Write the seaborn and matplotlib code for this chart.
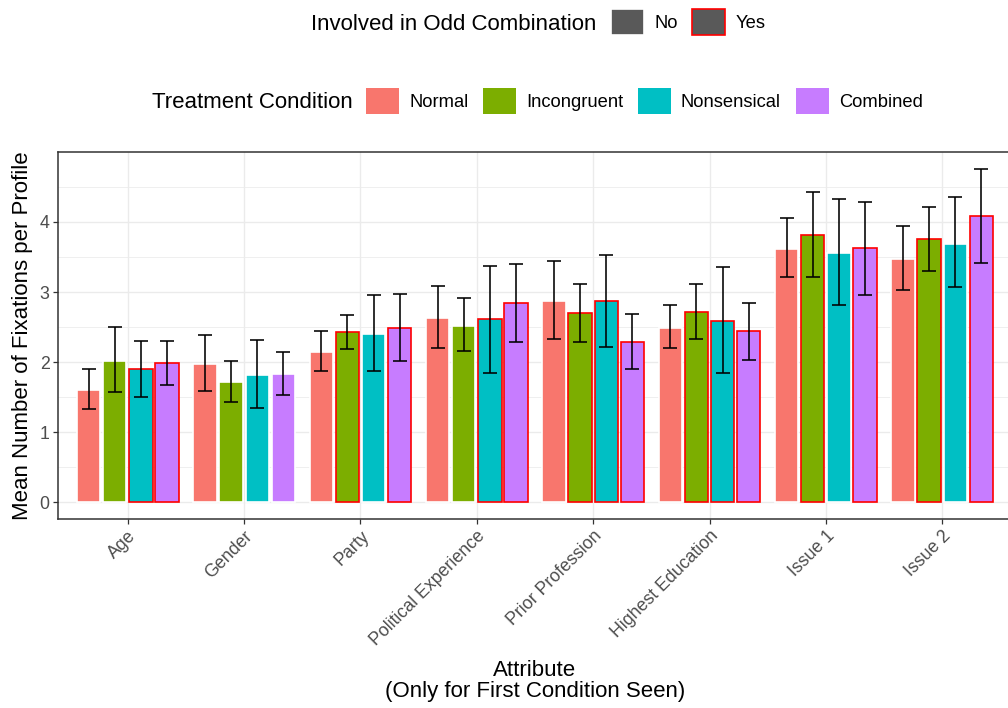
import numpy as np
import pandas as pd
import matplotlib
matplotlib.use("Agg")
import matplotlib.pyplot as plt
from matplotlib.patches import Patch
import seaborn as sns

# ---- data -------------------------------------------------------------
attributes = ["Age", "Gender", "Party", "Political Experience", "Prior Profession",
              "Highest Education", "Issue 1", "Issue 2"]
conditions = ["Normal", "Incongruent", "Nonsensical", "Combined"]

normal_mean = [1.60, 1.97, 2.15, 2.63, 2.87, 2.49, 3.61, 3.47]
normal_lo = [1.33, 1.59, 1.87, 2.20, 2.33, 2.20, 3.21, 3.03]
normal_hi = [1.90, 2.39, 2.45, 3.09, 3.45, 2.82, 4.06, 3.94]
normal_odd = [0, 0, 0, 0, 0, 0, 0, 0]

incong_mean = [2.01, 1.71, 2.43, 2.52, 2.70, 2.72, 3.82, 3.76]
incong_lo = [1.58, 1.43, 2.19, 2.16, 2.29, 2.33, 3.22, 3.30]
incong_hi = [2.50, 2.01, 2.67, 2.92, 3.11, 3.12, 4.43, 4.22]
incong_odd = [0, 0, 1, 0, 1, 1, 1, 1]

nonsens_mean = [1.90, 1.81, 2.40, 2.61, 2.87, 2.59, 3.55, 3.69]
nonsens_lo = [1.50, 1.34, 1.88, 1.85, 2.22, 1.84, 2.81, 3.07]
nonsens_hi = [2.30, 2.32, 2.96, 3.37, 3.53, 3.36, 4.33, 4.36]
nonsens_odd = [1, 0, 0, 1, 1, 1, 0, 0]

comb_mean = [1.99, 1.83, 2.49, 2.84, 2.29, 2.44, 3.63, 4.09]
comb_lo = [1.68, 1.53, 2.01, 2.29, 1.90, 2.03, 2.96, 3.42]
comb_hi = [2.30, 2.15, 2.97, 3.40, 2.69, 2.84, 4.28, 4.76]
comb_odd = [1, 0, 1, 1, 1, 1, 1, 1]

odd_levels = ["No", "Yes"]

means = [normal_mean, incong_mean, nonsens_mean, comb_mean]
lows = [normal_lo, incong_lo, nonsens_lo, comb_lo]
highs = [normal_hi, incong_hi, nonsens_hi, comb_hi]
odds = [normal_odd, incong_odd, nonsens_odd, comb_odd]

rows = []
for cond, m, lo, hi, od in zip(conditions, means, lows, highs, odds):
    for a, mv, lv, hv, ov in zip(attributes, m, lo, hi, od):
        rows.append({"Attribute": a, "Condition": cond, "mean": mv,
                     "lo": lv, "hi": hv, "odd": odd_levels[ov]})
df = pd.DataFrame(rows)

# ---- style ------------------------------------------------------------
palette = {"Normal": "#F8766D", "Incongruent": "#7CAE00",
           "Nonsensical": "#00BFC4", "Combined": "#C77CFF"}
edge_for = {"No": "white", "Yes": "#FF0000"}
plt.rcParams["font.family"] = ["Liberation Sans", "DejaVu Sans"]
TITLE_FS = 16
TEXT_FS = 12.8
LEGEND_FS = 13.2
GRID = "#EBEBEB"
DARK = "#333333"

fig = plt.figure(figsize=(10.08, 7.08), dpi=100)
W, H = 1008, 708
ax = fig.add_axes([58 / W, (H - 519) / H, (1012 - 58) / W, (519 - 152) / H])

sns.barplot(data=df, x="Attribute", y="mean", hue="Condition",
            order=attributes, hue_order=conditions, palette=palette,
            width=0.9, gap=0.11, errorbar=None, legend=False, saturation=1,
            linewidth=1.2, edgecolor="white", ax=ax, zorder=2)

# outline the bars involved in an odd combination, then add the intervals
bar_groups = list(ax.containers)
for cond, cont in zip(conditions, bar_groups):
    sub = df[df["Condition"] == cond].set_index("Attribute").loc[attributes]
    xs = []
    for bar, flag in zip(cont.patches, sub["odd"]):
        bar.set_edgecolor(edge_for[flag])
        bar.set_linewidth(1.2)
        bar.set_zorder(3 if flag == "Yes" else 2)
        xs.append(bar.get_x() + bar.get_width() / 2)
    xs = np.array(xs)
    yerr = np.vstack([sub["mean"] - sub["lo"], sub["hi"] - sub["mean"]])
    ax.errorbar(xs, sub["mean"], yerr=yerr, fmt="none", ecolor="black",
                elinewidth=1.15, capsize=4.8, capthick=1.15, zorder=4)

# ---- axes -------------------------------------------------------------
ymax = max(max(h) for h in highs)
pad = 0.05 * ymax
ax.set_ylim(-pad, ymax + pad)
ax.set_xlim(-0.6, len(attributes) - 1 + 0.6)
ax.set_yticks([0, 1, 2, 3, 4])
ax.set_yticks(np.arange(0.5, 5.0, 1.0), minor=True)
ax.set_axisbelow(True)
ax.grid(True, which="major", axis="both", color=GRID, linewidth=1.0, zorder=0)
ax.grid(True, which="minor", axis="y", color=GRID, linewidth=0.55, zorder=0)
ax.tick_params(axis="y", which="minor", length=0)
ax.tick_params(axis="both", which="major", length=3.6, width=0.9, color=DARK,
               labelsize=TEXT_FS, labelcolor="#4D4D4D", pad=2.5)
for s in ax.spines.values():
    s.set_color(DARK)
    s.set_linewidth(1.1)
ax.set_facecolor("white")

ax.set_xticks(range(len(attributes)))
ax.set_xticklabels(attributes, rotation=45, ha="right", va="top",
                   rotation_mode="anchor")
ax.set_xlabel("Attribute\n(Only for First Condition Seen)", fontsize=TITLE_FS,
              color="black", linespacing=1.0, labelpad=8)
ax.set_ylabel("Mean Number of Fixations per Profile", fontsize=TITLE_FS,
              color="black", labelpad=5)

# ---- legends ----------------------------------------------------------
odd_handles = [Patch(facecolor="#595959", edgecolor=edge_for[l], linewidth=1.2)
               for l in odd_levels]
cond_handles = [Patch(facecolor=palette[c], edgecolor="none") for c in conditions]

common = dict(loc="center left", frameon=False, fontsize=LEGEND_FS,
              handlelength=1.8, handleheight=1.75, handletextpad=0.55,
              columnspacing=0.8, borderpad=0, borderaxespad=0)
fig.legend(odd_handles, odd_levels, ncol=2,
           bbox_to_anchor=(611 / W, 1 - 22 / H), **common)
fig.legend(cond_handles, conditions, ncol=4,
           bbox_to_anchor=(366 / W, 1 - 101 / H), **common)
fig.text(311 / W, 1 - 24 / H, "Involved in Odd Combination", fontsize=TITLE_FS,
         ha="left", va="center")
fig.text(152 / W, 1 - 103 / H, "Treatment Condition", fontsize=TITLE_FS,
         ha="left", va="center")

fig.savefig("out.png", dpi=100, facecolor="white")
